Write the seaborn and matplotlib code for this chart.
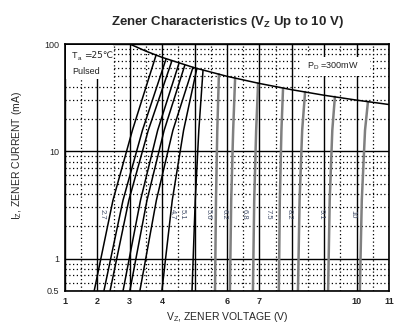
import matplotlib
matplotlib.use('Agg')
import matplotlib.pyplot as plt
import seaborn as sns
import pandas as pd
from matplotlib.patches import Rectangle
from matplotlib.ticker import FixedLocator, FixedFormatter, NullFormatter

# ---------------- data ----------------
curve_names = ["2.7", "3.0", "3.3", "3.6", "3.9", "4.3", "4.7", "5.1",
               "5.6", "6.2", "6.8", "7.5", "8.2", "9.1", "10"]
black_curves = ["2.7", "3.0", "3.3", "3.6", "3.9", "4.3", "4.7", "5.1"]

# voltage of each curve at 0.5 mA, 3.5 mA, 15.7 mA and at the 300 mW limit
v_at_0p5 = [1.90, 2.20, 2.39, 2.79, 3.00, 3.31, 3.99, 4.92,
            5.63, 6.09, 6.80, 7.60, 8.19, 9.12, 10.10]
v_at_3p5 = [2.48, 2.79, 2.97, 3.33, 3.53, 3.82, 4.31, 5.02,
            5.66, 6.13, 6.84, 7.63, 8.24, 9.17, 10.16]
v_at_15p7 = [3.08, 3.39, 3.57, 3.86, 4.06, 4.33, 4.66, 5.13,
             5.70, 6.19, 6.90, 7.68, 8.32, 9.25, 10.26]
v_top = [3.81, 4.12, 4.30, 4.52, 4.70, 4.95, 5.07, 5.26,
         5.75, 6.25, 6.96, 7.73, 8.41, 9.33, 10.35]
i_top = [78.7, 72.8, 69.8, 66.4, 63.8, 60.6, 59.2, 57.0,
         52.2, 48.0, 43.1, 38.8, 35.7, 32.2, 29.0]
i_levels = [0.5, 3.5, 15.7]

# power dissipation limit line (PD = 300 mW)
pd_v = [2.9, 3.5, 4.0, 5.0, 6.0, 7.0, 8.0, 9.0, 10.0, 11.0]
pd_i = [103.0, 85.7, 75.0, 60.0, 50.0, 42.9, 37.5, 33.3, 30.0, 27.3]

# curve labels
label_names = ["2.7", "4.7", "5.1", "5.6", "6.2", "6.8", "7.5", "8.2", "9.1", "10"]
label_v = [2.15, 4.30, 4.61, 5.41, 5.90, 6.52, 7.27, 7.91, 8.90, 9.89]
label_i = 2.6

x_ticks = [1, 2, 3, 4, 5, 6, 7, 8, 9, 10, 11]
x_tick_labels = ["1", "2", "3", "4", "", "6", "7", "", "", "10", "11"]
y_ticks = [0.5, 1, 10, 100]
y_tick_labels = ["0.5", "1", "10", "100"]

# ---------------- build table ----------------
rows = []
for k, name in enumerate(curve_names):
    vs = [v_at_0p5[k], v_at_3p5[k], v_at_15p7[k], v_top[k]]
    iss = i_levels + [i_top[k]]
    for j, (v, i) in enumerate(zip(vs, iss)):
        rows.append((name, v, i, j))
df = pd.DataFrame(rows, columns=["curve", "v", "i", "order"])
df_black = df[df["curve"].isin(black_curves)]
df_gray = df[~df["curve"].isin(black_curves)]
df_pd = pd.DataFrame({"v": pd_v, "i": pd_i})

# ---------------- style ----------------
sns.set_theme(style="white")
plt.rcParams['font.family'] = ['Liberation Sans', 'DejaVu Sans']
plt.rcParams['mathtext.fontset'] = 'custom'
plt.rcParams['mathtext.rm'] = 'Liberation Sans'
plt.rcParams['mathtext.it'] = 'Liberation Sans'
plt.rcParams['mathtext.bf'] = 'Liberation Sans:bold'

W, H = 412, 325
fig = plt.figure(figsize=(W / 100, H / 100), dpi=100)
ax = fig.add_axes([65 / W, 34 / H, 324 / W, 247 / H])

ax.set_yscale('log')
ax.set_xlim(1, 11)
ax.set_ylim(0.5, 100)

# grid
ax.xaxis.set_major_locator(FixedLocator(x_ticks))
ax.xaxis.set_major_formatter(FixedFormatter(x_tick_labels))
ax.xaxis.set_minor_locator(FixedLocator([x + 0.5 for x in range(1, 11)]))
ax.xaxis.set_minor_formatter(NullFormatter())
ax.yaxis.set_major_locator(FixedLocator(y_ticks))
ax.yaxis.set_major_formatter(FixedFormatter(y_tick_labels))
minor_y = [0.6, 0.7, 0.8, 0.9] + [m * 1 for m in range(2, 10)] + [m * 10 for m in range(2, 10)]
ax.yaxis.set_minor_locator(FixedLocator(minor_y))
ax.yaxis.set_minor_formatter(NullFormatter())

ax.grid(which='major', color='black', lw=1.0, ls='-')
ax.grid(which='minor', color='black', lw=0.9, ls=(0, (1, 2)))
ax.set_axisbelow(True)
ax.tick_params(which='both', length=0)
ax.tick_params(axis='x', pad=4, labelsize=6.5)
ax.tick_params(axis='y', pad=4, labelsize=6.5)
for lab in ax.get_xticklabels():
    lab.set_fontweight('bold')
for s in ax.spines.values():
    s.set_color('black')
    s.set_linewidth(1.2)

# curves
sns.lineplot(data=df_gray, x="v", y="i", units="curve", estimator=None,
             sort=False, color="#808080", lw=1.8, ax=ax, legend=False)
sns.lineplot(data=df_black, x="v", y="i", units="curve", estimator=None,
             sort=False, color="black", lw=1.1, ax=ax, legend=False)
sns.lineplot(data=df_pd, x="v", y="i", estimator=None, sort=False,
             color="black", lw=1.1, ax=ax, legend=False)

for name, v in zip(label_names, label_v):
    ax.text(v, label_i, name, rotation=270, ha='center', va='center',
            fontsize=5.5, color='#44506a')

# annotation boxes
ax.add_patch(Rectangle((0.003, 0.858), 0.145, 0.139, transform=ax.transAxes,
                       facecolor='white', edgecolor='none', zorder=3))
ax.text(0.022, 0.955, 'T', transform=ax.transAxes,
        fontsize=6.5, ha='left', va='center', zorder=4, color='#222222')
ax.text(0.040, 0.940, 'a', transform=ax.transAxes,
        fontsize=4.5, ha='left', va='center', zorder=4, color='#222222')
ax.text(0.058, 0.955, '=25℃', transform=ax.transAxes,
        fontsize=6.5, ha='left', va='center', zorder=4, color='#222222',
        family=['DejaVu Sans'])
ax.text(0.022, 0.887, 'Pulsed', transform=ax.transAxes,
        fontsize=6.5, ha='left', va='center', zorder=4, color='#222222')
ax.add_patch(Rectangle((0.725, 0.870), 0.216, 0.077, transform=ax.transAxes,
                       facecolor='white', edgecolor='none', zorder=3))
ax.text(0.747, 0.911, r'P$_\mathregular{D}$ =300mW', transform=ax.transAxes,
        fontsize=6.5, ha='left', va='center', zorder=4, color='#222222')

ax.set_xlabel(r'V$_\mathregular{Z}$, ZENER VOLTAGE (V)', fontsize=7.5, labelpad=3)
ax.set_ylabel(r'I$_\mathregular{Z}$, ZENER CURRENT (mA)', fontsize=7.5)
ax.yaxis.set_label_coords(-0.125, 0.55)

fig.text(227 / W, 1 - 22 / H, r'Zener Characteristics (V$_\mathbf{Z}$ Up to 10 V)',
         fontsize=9.5, fontweight='bold', ha='center', va='center')

fig.savefig("out.png", dpi=100)
